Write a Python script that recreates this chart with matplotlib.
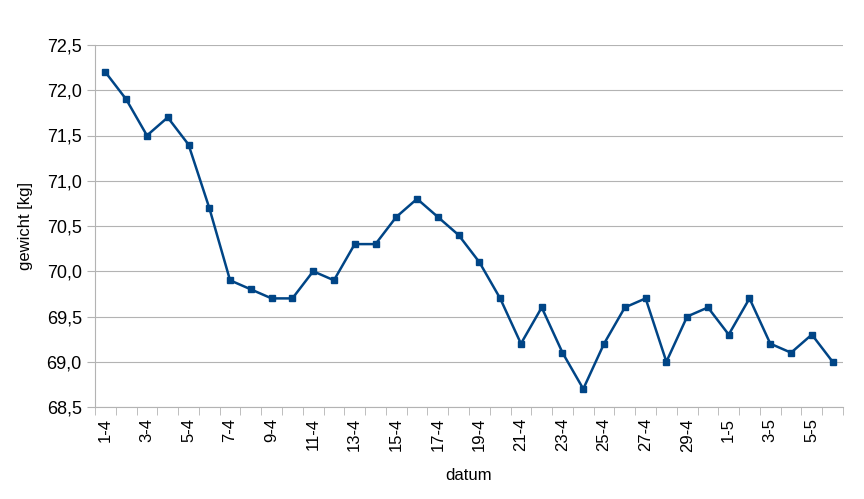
import matplotlib
matplotlib.use("Agg")
import matplotlib.pyplot as plt
from matplotlib.ticker import FuncFormatter, MultipleLocator

dates = [f"{d}-4" for d in range(1, 31)] + [f"{d}-5" for d in range(1, 7)]
weights = [72.2, 71.9, 71.5, 71.7, 71.4, 70.7, 69.9, 69.8, 69.7, 69.7,
           70.0, 69.9, 70.3, 70.3, 70.6, 70.8, 70.6, 70.4, 70.1, 69.7,
           69.2, 69.6, 69.1, 68.7, 69.2, 69.6, 69.7, 69.0, 69.5, 69.6,
           69.3, 69.7, 69.2, 69.1, 69.3, 69.0]

plt.rcParams['font.family'] = ['Liberation Sans', 'DejaVu Sans']
fig = plt.figure(figsize=(8.64, 4.99), dpi=100)
ax = fig.add_axes([95/864, 1-407/499, (843-95)/864, (407-45)/499])
x = list(range(len(weights)))
ax.plot(x, weights, color='#004586', lw=1.8, marker='s', ms=4.5)
ax.set_xlim(-0.5, len(weights) - 0.5)
ax.set_ylim(68.5, 72.5)
ax.yaxis.set_major_locator(MultipleLocator(0.5))
ax.yaxis.set_major_formatter(FuncFormatter(lambda v, p: f"{v:.1f}".replace('.', ',')))
ax.set_xticks(x[::2])
ax.set_xticklabels(dates[::2], rotation=90, fontsize=12)
ax.set_xticks([i + 0.5 for i in range(-1, len(weights))], minor=True)
ax.tick_params(axis='x', which='major', length=0, pad=8)
ax.tick_params(axis='x', which='minor', length=6, color='#b3b3b3')
ax.tick_params(axis='y', length=6, color='#b3b3b3', labelsize=13)
ax.grid(axis='y', color='#b3b3b3', lw=0.8)
ax.set_axisbelow(True)
for s in ['top', 'right']:
    ax.spines[s].set_visible(False)
for s in ['left', 'bottom']:
    ax.spines[s].set_color('#b3b3b3')
ax.set_xlabel('datum', fontsize=12, labelpad=12)
ax.set_ylabel('gewicht [kg]', fontsize=12, labelpad=10)
fig.savefig('out.png', dpi=100)
